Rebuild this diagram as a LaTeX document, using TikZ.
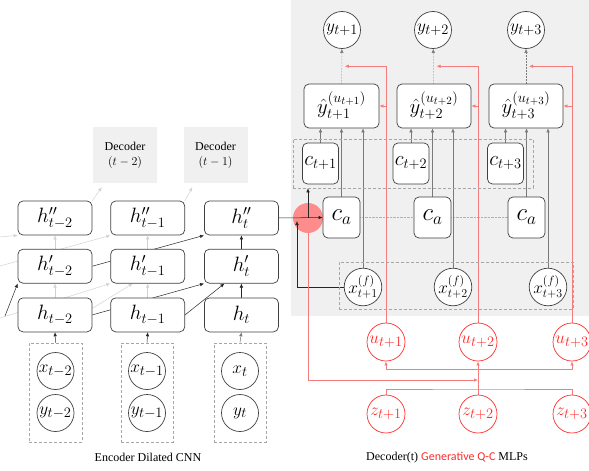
\documentclass[tikz,border=0pt]{standalone}
\usepackage{fontspec}
\setmainfont{Liberation Serif}
\newfontfamily\genfont{Carlito}
\usepackage{amsmath}
\usetikzlibrary{positioning,calc,arrows.meta,backgrounds}
\definecolor{bggray}{HTML}{F0F0F0}
\definecolor{boxline}{HTML}{404040}
\definecolor{lightline}{HTML}{D2D2D2}
\definecolor{midline}{HTML}{7A7A7A}
\definecolor{redline}{HTML}{F47C7C}
\definecolor{redtext}{HTML}{FF2A2A}
\newcommand{\lowsub}[1]{\raisebox{-3pt}{$\scriptstyle #1$}}

\begin{document}
\begin{tikzpicture}[
    x=1pt, y=-1pt,
    hbox/.style={
        rectangle,
        draw=boxline,
        fill=white,
        rounded corners=5pt,
        line width=0.7pt,
        minimum width=74pt,
        minimum height=34pt,
        inner sep=0pt,
        font=\fontsize{21}{22}\selectfont
    },
    yhbox/.style={hbox, minimum width=74pt, minimum height=44pt, font=\fontsize{22}{24}\selectfont},
    cbox/.style={hbox, minimum width=36pt, minimum height=41pt, font=\fontsize{20}{22}\selectfont},
    cabox/.style={hbox, minimum width=37pt, minimum height=41pt, font=\fontsize{26}{28}\selectfont},
    circ/.style={
        circle,
        draw=boxline,
        fill=white,
        line width=0.7pt,
        minimum size=37pt,
        inner sep=0pt,
        font=\fontsize{19}{20}\selectfont
    },
    xfcirc/.style={circ, minimum size=36pt, font=\fontsize{17}{18}\selectfont},
    redcirc/.style={circ, draw=redtext, text=redtext, minimum size=38pt},
    group/.style={
        rectangle,
        draw=black!35,
        dash pattern=on 3pt off 2pt,
        line width=0.6pt,
        inner sep=0pt
    },
    decbox/.style={
        rectangle,
        fill=bggray,
        minimum width=64pt,
        minimum height=56pt,
        align=center,
        font=\fontsize{12}{15}\selectfont
    },
    arrow/.style={
        -{Latex[length=4pt,width=3.5pt]},
        draw=black!85,
        line width=0.5pt
    },
    garrow/.style={arrow, draw=midline},
    larrow/.style={-{Latex[length=4pt,width=3.5pt]}, draw=lightline, line width=0.5pt},
    dotarrow/.style={arrow, draw=midline, densely dotted},
    redarrow/.style={-{Latex[length=4pt,width=3.5pt]}, draw=redline, line width=0.7pt},
    redlink/.style={draw=redline, line width=0.7pt}
]
\useasboundingbox (0,0) rectangle (589,471);

% encoder side
\node[hbox] (hpp2) at (55,218) {$h''_{t-2}$};
\node[hbox, right=18pt of hpp2] (hpp1) {$h''_{t-1}$};
\node[hbox, right=19pt of hpp1] (hpp0) {$h''_{t}$};
\node[hbox, below=13.5pt of hpp2] (hp2) {$h'_{t-2}$};
\node[hbox, below=13.5pt of hpp1] (hp1) {$h'_{t-1}$};
\node[hbox, below=13.5pt of hpp0] (hp0) {$h'_{t}$};
\node[hbox, below=14pt of hp2] (h2) {$h_{t-2}$};
\node[hbox, below=14pt of hp1] (h1) {$h_{t-1}$};
\node[hbox, below=14pt of hp0] (h0) {$h_{t}$};

\node[group, minimum width=53pt, minimum height=99pt] (in2) at (55.5,392.5) {};
\node[group, minimum width=52pt, minimum height=99pt] (in1) at (147,392.5) {};
\node[group, minimum width=52pt, minimum height=99pt] (in0) at (240,392.5) {};
\node[circ] (x2) at (55.5,371) {$x_{t-2}$};
\node[circ] (y2) at (55.5,413) {$y_{t-2}$};
\node[circ] (x1) at (147,371) {$x_{t-1}$};
\node[circ] (y1) at (147,413) {$y_{t-1}$};
\node[circ] (x0) at (240,371) {$x_{t}$};
\node[circ] (y0) at (240,413) {$y_{t}$};

\node[decbox] (dec2) at (125,155) {Decoder\\$(t-2)$};
\node[decbox] (dec1) at (215.5,155) {Decoder\\$(t-1)$};

\node[font=\fontsize{12}{14}\selectfont] (enclabel) at (148,457) {Encoder Dilated CNN};

% decoder side
\node[circ] (yt1) at (342,30) {$y_{t+1}$};
\node[circ] (yt2) at (433,30) {$y_{t+2}$};
\node[circ] (yt3) at (526,30) {$y_{t+3}$};

\node[yhbox, minimum width=75pt] (yh1) at (341.5,106) {$\hat{y}^{(u_{t+1})}_{\lowsub{t+1}}$};
\node[yhbox] (yh2) at (434,106) {$\hat{y}^{(u_{t+2})}_{\lowsub{t+2}}$};
\node[yhbox] (yh3) at (526,106) {$\hat{y}^{(u_{t+3})}_{\lowsub{t+3}}$};

\node[group, minimum width=240pt, minimum height=49pt] (cgroup) at (413,163.5) {};
\node[cbox] (c1) at (320.5,163.5) {$c_{t+1}$};
\node[cbox] (c2) at (411,163.5) {$c_{t+2}$};
\node[cbox] (c3) at (505.5,163.5) {$c_{t+3}$};

\node[cabox] (ca1) at (341.5,217.5) {$c_a$};
\node[cabox] (ca2) at (432.5,217.5) {$c_a$};
\node[cabox] (ca3) at (526.5,217.5) {$c_a$};

\node[group, minimum width=234pt, minimum height=47pt] (xfgroup) at (456,285.5) {};
\node[xfcirc] (xf1) at (363,287) {$x^{(f)}_{t+1}$};
\node[xfcirc] (xf2) at (453,287) {$x^{(f)}_{t+2}$};
\node[xfcirc] (xf3) at (548,287) {$x^{(f)}_{t+3}$};

\node[redcirc] (u1) at (386,342) {$u_{t+1}$};
\node[redcirc] (u2) at (478,342) {$u_{t+2}$};
\node[redcirc] (u3) at (572,342) {$u_{t+3}$};
\node[redcirc] (z1) at (386,414) {$z_{t+1}$};
\node[redcirc] (z2) at (478,414) {$z_{t+2}$};
\node[redcirc] (z3) at (572,414) {$z_{t+3}$};

\node[font=\fontsize{12}{14}\selectfont] (declabel) at (447,458)
{Decoder(t) {\color{redtext}\genfont Generative Q-C} MLPs};

\coordinate (fback) at (297,221);
\coordinate (zbus) at (478,389);
\coordinate (ubus) at (478,369);
\coordinate (l1) at (0,237);
\coordinate (l2) at (0,266);
\coordinate (l3) at (0,318);
\coordinate (l4) at (5,316);

\begin{pgfonlayer}{background}
\fill[bggray] (291,0) rectangle (589,316);
\node[circle, fill=red!45, minimum size=30pt, inner sep=0pt] (junc) at (308,218) {};

% earlier time steps
\draw[larrow] (h2) -- (hp2);
\draw[larrow] (hp2) -- (hpp2);
\draw[larrow] (h1) -- (hp1);
\draw[larrow] (hp1) -- (hpp1);
\draw[larrow] (l1) -- (hpp2.south west);
\draw[larrow] (l2) -- (hpp1.south west);
\draw[larrow] (l3) -- (hp1.south west);
\draw[larrow] (h2.10) -- ($(hp1.south)+(-15,0)$);
\draw[larrow] (hpp2.north east) -- ($(dec2.south west)+(9,4)$);
\draw[larrow] (hpp1.north east) -- ($(dec1.south west)+(9,4)$);

% step t
\draw[arrow] (in2.north) -- (h2.south);
\draw[arrow] (in1.north) -- (h1.south);
\draw[garrow] (in0.north) -- (h0.south);
\draw[arrow] (l4) -- (hp2.south west);
\draw[arrow] (hp2.east) -- (hpp0.south west);
\draw[arrow] (h2.east) -- (hp0.south west);
\draw[arrow] (h1.east) -- ($(hp0.south)+(-17,0)$);
\draw[arrow] (h0) -- (hp0);
\draw[arrow] (hp0) -- (hpp0);

% into the decoder
\draw[arrow] (hpp0.east) -- (ca1.west);
\draw[arrow] (junc.center) -- (junc.center |- cgroup.south);
\draw[arrow] (xf1.west) -| (fback);
\draw[draw=black!30, densely dotted] (ca1.east) -- (ca2.west);
\draw[draw=black!30, densely dotted] (ca2.east) -- (ca3.west);

\draw[garrow] (c1) -- (c1 |- yh1.south);
\draw[garrow] (ca1) -- (ca1 |- yh1.south);
\draw[garrow] (xf1) -- (xf1 |- yh1.south);
\draw[garrow] (c2) -- (c2 |- yh2.south);
\draw[garrow] (ca2) -- (ca2 |- yh2.south);
\draw[garrow] (xf2) -- (xf2 |- yh2.south);
\draw[garrow] (c3) -- (c3 |- yh3.south);
\draw[garrow] (ca3) -- (ca3 |- yh3.south);
\draw[garrow] (xf3) -- (xf3 |- yh3.south);

\draw[dotarrow] (yh1) -- (yt1);
\draw[dotarrow] (yh2) -- (yt2);
\draw[dotarrow] (yh3) -- (yt3);

% generative part
\draw[redarrow] (junc.south) |- (478,380);
\draw[redlink] (z1.north) |- (zbus) -| (z3.north);
\draw[redlink] (z2.north) -- (ubus);
\draw[redarrow] (ubus) -| (u1.south);
\draw[redarrow] (ubus) -- (u2.south);
\draw[redarrow] (ubus) -| (u3.south);

\draw[redarrow] (u1.north) |- ($(yt1.south)!0.5!(yh1.north)+(3,0)$);
\draw[redarrow] (u1.north |- yh1.east) -- (yh1.east);
\draw[redarrow] (u2.north) |- ($(yt2.south)!0.5!(yh2.north)+(3,0)$);
\draw[redarrow] (u2.north |- yh2.east) -- (yh2.east);
\draw[redarrow] (u3.north) |- ($(yt3.south)!0.5!(yh3.north)+(3,0)$);
\draw[redarrow] (u3.north |- yh3.east) -- (yh3.east);
\end{pgfonlayer}

\end{tikzpicture}
\end{document}
